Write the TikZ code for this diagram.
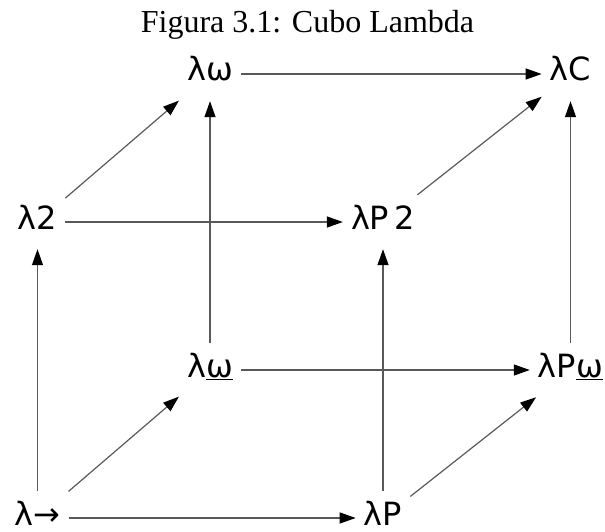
\documentclass[tikz,border=0pt]{standalone}
\usepackage{fontspec}
\setmainfont{Liberation Serif}
\newfontfamily\lblfont{DejaVu Sans}
\usetikzlibrary{arrows.meta}
\begin{document}
\begin{tikzpicture}[x=1pt,y=-1pt,
  lbl/.style={font=\lblfont\fontsize{32}{38}\selectfont, text height=22pt, text depth=8pt, inner xsep=8pt, inner ysep=12pt},
  conn/.style={draw=black!65, line width=1.2pt, -{Triangle[length=16pt,width=11pt,color=black]}}]
\useasboundingbox (0,0) rectangle (605,532);
\node[font=\fontsize{32}{38}\selectfont, anchor=base, inner sep=0pt] (title) at (307.5,33) {Figura 3.1: Cubo Lambda};
\node[lbl] (lw)   at (210,74)   {λω};
\node[lbl] (lC)   at (570.5,74) {λC};
\node[lbl] (l2)   at (37.5,222) {λ2};
\node[lbl] (lP2)  at (383,222)  {λP\,2};
\node[lbl] (lwu)  at (210,370)  {λ\underline{ω}};
\node[lbl] (lPwu) at (570.5,370) {λP\underline{ω}};
\node[lbl] (lto)  at (37.5,518) {λ→};
\node[lbl] (lP)   at (383,518)  {λP};
% horizontal
\draw[conn] (lw) -- (lC);
\draw[conn] (l2) -- (lP2);
\draw[conn] (lwu) -- (lPwu);
\draw[conn] (lto) -- (lP);
% vertical
\draw[conn] (lto) -- (l2);
\draw[conn] (lwu) -- (lw);
\draw[conn] (lP) -- (lP2);
\draw[conn] (lPwu) -- (lC);
% diagonal
\draw[conn] (l2) -- (lw);
\draw[conn] (lto) -- (lwu);
\draw[conn] (lP2) -- (lC);
\draw[conn] (lP) -- (lPwu);
\end{tikzpicture}
\end{document}
